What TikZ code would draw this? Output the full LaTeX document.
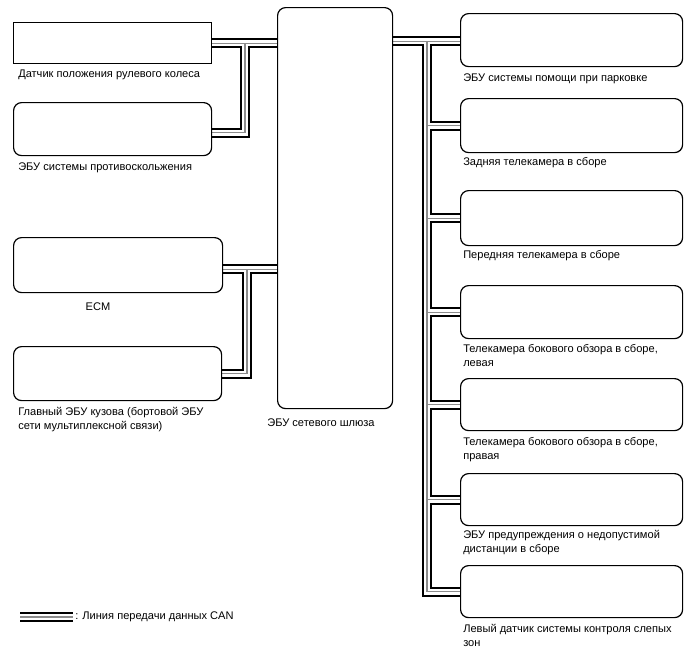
\documentclass[tikz,border=0pt]{standalone}
\usepackage{fontspec}
\setmainfont{Liberation Sans}
\pgfdeclarelayer{bg}
\pgfsetlayers{bg,main}
\newcommand\cablenet[1]{%
  \draw[#1] (b1.east) -- (b1.east -| gw.west);
  \draw[#1] ([yshift=-2.6pt]b2.east) -| (b1.east -| vL1);
  \draw[#1] ([yshift=-3pt]b3.east) -- ([yshift=-3pt]b3.east -| gw.west);
  \draw[#1] (b4.east) -| ([yshift=-3pt]b3.east -| vL2);
  \draw[#1] ([yshift=-1pt]gw.east |- rA.west) -- ([yshift=-1pt]rA.west);
  \draw[#1] ([yshift=-1pt]rA.west -| vR) |- (rG.west);
  \draw[#1] (rB.west -| vR) -- (rB.west);
  \draw[#1] (rC.west -| vR) -- (rC.west);
  \draw[#1] (rD.west -| vR) -- (rD.west);
  \draw[#1] (rE.west -| vR) -- (rE.west);
  \draw[#1] (rF.west -| vR) -- (rF.west);
  \draw[#1] (lg1) -- (lg2);
}
\begin{document}
\begin{tikzpicture}[x=0.75pt,y=-0.75pt,
  box/.style 2 args={draw,line width=0.9pt,fill=white,rounded corners=6pt,
    inner sep=0pt,anchor=north west,minimum width=#1*0.75pt,minimum height=#2*0.75pt},
  sqbox/.style 2 args={box={#1}{#2},sharp corners},
  lbl/.style={font=\fontsize{8.3}{10.5}\selectfont,anchor=west,inner sep=0pt,align=left},
  cblack/.style={line width=7.5pt,black,line join=miter},
  cwhite/.style={line width=4.5pt,white,line join=miter},
  cgray/.style={line width=0.8pt,black!45,line join=miter}]
\useasboundingbox (0,0) rectangle (688,658);
% left boxes
\node[sqbox={198}{41}] (b1) at (13,22) {};
\node[box={198}{53}] (b2) at (13,102) {};
\node[box={209}{55}] (b3) at (13,237) {};
\node[box={208}{54}] (b4) at (13,346) {};
% gateway
\node[box={115}{401}] (gw) at (277,7) {};
% right boxes
\node[box={222}{53}] (rA) at (460,13) {};
\node[box={222}{54}] (rB) at (460,98) {};
\node[box={222}{55}] (rC) at (460,190) {};
\node[box={222}{53}] (rD) at (460,285) {};
\node[box={222}{52}] (rE) at (460,378) {};
\node[box={222}{52}] (rF) at (460,473) {};
\node[box={222}{52}] (rG) at (460,565) {};
% bus columns
\coordinate (vL1) at (245,0);
\coordinate (vL2) at (247,0);
\coordinate (vR) at (427,0);
\coordinate (lg1) at (20,617);
\coordinate (lg2) at (73,617);
% labels
\node[lbl] (t1) at (18,75) {Датчик положения рулевого колеса};
\node[lbl] (t2) at (18,168) {ЭБУ системы противоскольжения};
\node[lbl,anchor=center] (t3) at (98,307) {ECM};
\node[lbl] (t4) at (18,420) {Главный ЭБУ кузова (бортовой ЭБУ\\сети мультиплексной связи)};
\node[lbl,anchor=center] (tg) at (321,423) {ЭБУ сетевого шлюза};
\node[lbl] (tA) at (463,79) {ЭБУ системы помощи при парковке};
\node[lbl] (tB) at (463,163) {Задняя телекамера в сборе};
\node[lbl] (tC) at (463,256) {Передняя телекамера в сборе};
\node[lbl] (tD) at (463,355) {Телекамера бокового обзора в сборе,\\левая};
\node[lbl] (tE) at (463,450) {Телекамера бокового обзора в сборе,\\правая};
\node[lbl] (tF) at (463,543) {ЭБУ предупреждения о недопустимой\\дистанции в сборе};
\node[lbl] (tG) at (463,635) {Левый датчик системы контроля слепых\\зон};
\node[lbl] (tL) at (75,617) {: Линия передачи данных CAN};
\begin{pgfonlayer}{bg}
  \cablenet{cblack}
  \cablenet{cwhite}
  \cablenet{cgray}
\end{pgfonlayer}
\end{tikzpicture}
\end{document}
